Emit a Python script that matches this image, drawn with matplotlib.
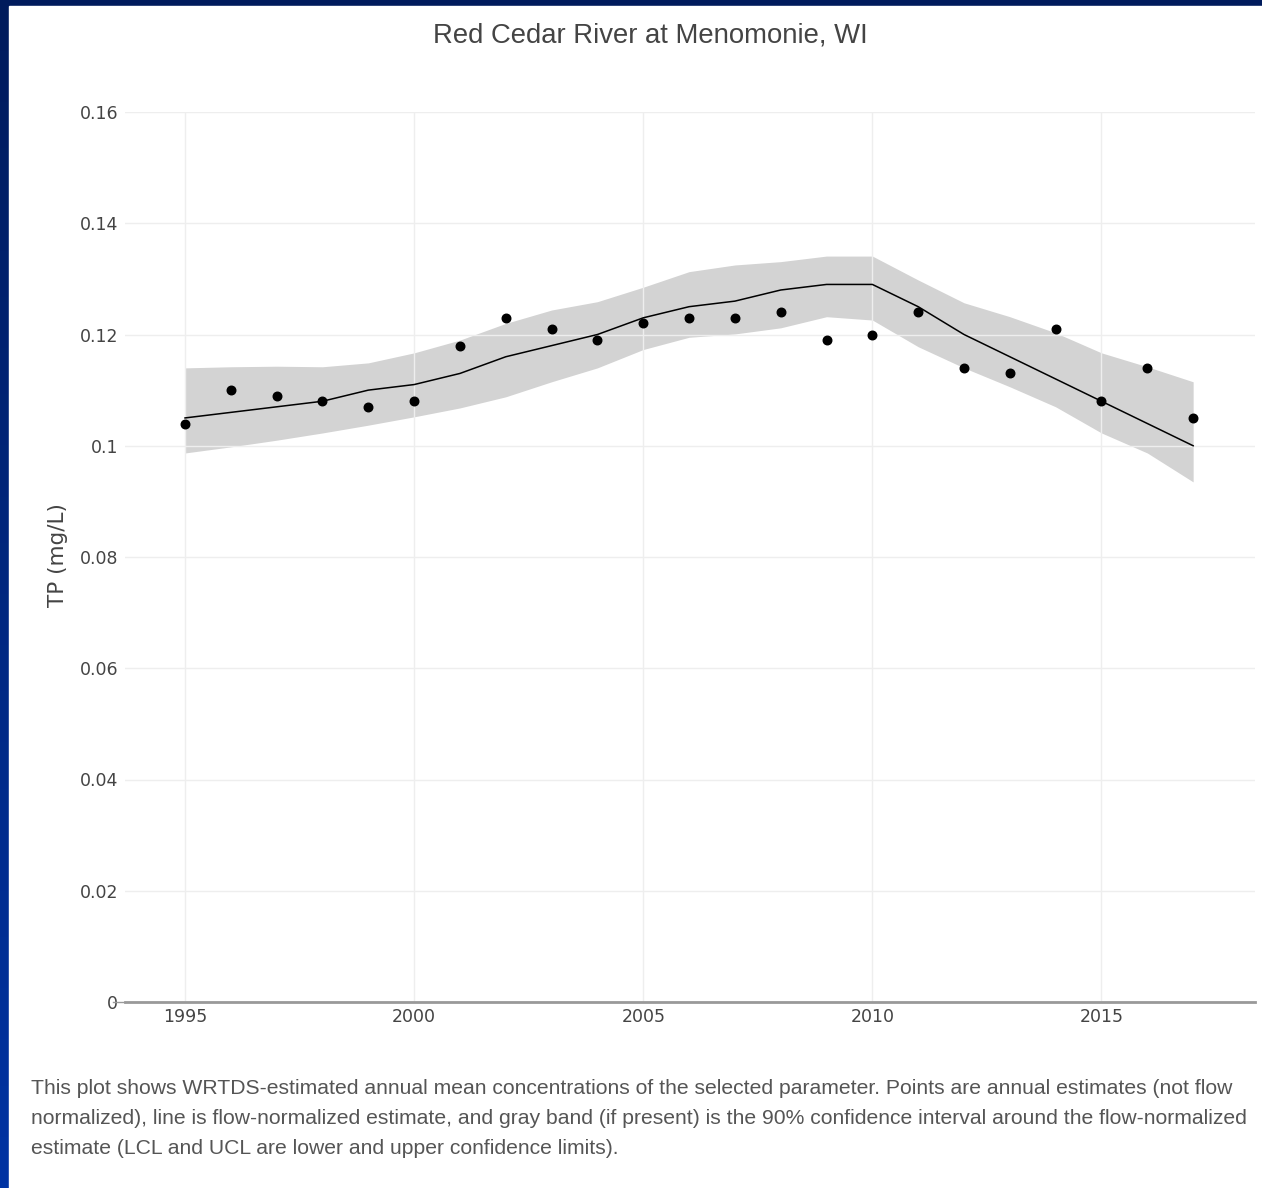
import matplotlib.pyplot as plt
import numpy as np

# annual estimates (points) and flow-normalized estimate (line) with 90% CI band
years = list(range(1995, 2018))
annual = [0.104, 0.110, 0.109, 0.108, 0.107, 0.108, 0.118, 0.123, 0.121, 0.119,
          0.122, 0.123, 0.123, 0.124, 0.119, 0.120, 0.124, 0.114, 0.113, 0.121,
          0.108, 0.114, 0.105]
flow_norm = [0.105, 0.106, 0.107, 0.108, 0.110, 0.111, 0.113, 0.116, 0.118, 0.120,
             0.123, 0.125, 0.126, 0.128, 0.129, 0.129, 0.125, 0.120, 0.116, 0.112,
             0.108, 0.104, 0.100]
ucl = [0.1140, 0.1142, 0.1143, 0.1142, 0.1149, 0.1167, 0.1190, 0.1220, 0.1244, 0.1259,
       0.1285, 0.1313, 0.1325, 0.1331, 0.1341, 0.1341, 0.1298, 0.1257, 0.1232, 0.1203,
       0.1167, 0.1142, 0.1115]
lcl = [0.0987, 0.0998, 0.1010, 0.1023, 0.1037, 0.1052, 0.1068, 0.1088, 0.1115, 0.1140,
       0.1173, 0.1195, 0.1201, 0.1212, 0.1232, 0.1226, 0.1178, 0.1140, 0.1106, 0.1070,
       0.1023, 0.0987, 0.0935]
xticks = [1995, 2000, 2005, 2010, 2015]
yticks = [0, 0.02, 0.04, 0.06, 0.08, 0.1, 0.12, 0.14, 0.16]
ytick_labels = ['0', '0.02', '0.04', '0.06', '0.08', '0.1', '0.12', '0.14', '0.16']

title = 'Red Cedar River at Menomonie, WI'
caption_lines = [
    'This plot shows WRTDS-estimated annual mean concentrations of the selected parameter. '
    'Points are annual estimates (not flow',
    'normalized), line is flow-normalized estimate, and gray band (if present) is the 90% '
    'confidence interval around the flow-normalized',
    'estimate (LCL and UCL are lower and upper confidence limits).',
]

W, H = 1262, 1188
fig = plt.figure(figsize=(W / 100, H / 100), dpi=100)

# navy slide background with a white panel on it
bg = fig.add_axes([0, 0, 1, 1], zorder=-10)
grad = np.linspace(0, 1, 256).reshape(-1, 1)
cmap = plt.matplotlib.colors.LinearSegmentedColormap.from_list('navy', ['#001b5c', '#0033a3'])
bg.imshow(grad, aspect='auto', cmap=cmap, extent=[0, 1, 0, 1], origin='upper')
bg.add_patch(plt.Rectangle((9 / W, 0), 1, 1 - 6 / H, color='white'))
bg.set_xlim(0, 1)
bg.set_ylim(0, 1)
bg.axis('off')

ax = fig.add_axes([125 / W, 1 - 1002 / H, (1255 - 125) / W, (1002 - 112) / H])
ax.set_facecolor('none')

ax.fill_between(years, lcl, ucl, color='#d3d3d3', linewidth=0, zorder=1)
ax.plot(years, flow_norm, color='black', linewidth=1.1, zorder=2)
ax.scatter(years, annual, color='black', s=38, zorder=3)

ax.set_xlim(1993.69, 2018.35)
ax.set_ylim(0, 0.16)
ax.set_xticks(xticks)
ax.set_yticks(yticks)
ax.set_yticklabels(ytick_labels)
ax.tick_params(length=0, labelsize=12.5, labelcolor='#444444')
ax.tick_params(axis='y', pad=5)
ax.tick_params(axis='x', pad=4)
ax.grid(color='#eeeeee', linewidth=1)
for s in ['top', 'right', 'left']:
    ax.spines[s].set_visible(False)
ax.spines['bottom'].set_color('#999999')
ax.spines['bottom'].set_linewidth(2)
ax.plot([-0.011, 0], [0, 0], transform=ax.transAxes, color='#999999', linewidth=1, clip_on=False)

ax.set_ylabel('TP (mg/L)', fontsize=15.5, color='#444444', va='center')
ax.yaxis.set_label_coords((58 - 125) / 1130, (1002 - 555) / 890)

fig.text(650 / W, 1 - 36 / H, title, ha='center', va='center', fontsize=19.8,
         color='#444444', family='Liberation Sans')
for i, line in enumerate(caption_lines):
    fig.text(31 / W, 1 - (1088 + 30.5 * i) / H, line, ha='left', va='center', fontsize=15.2,
             color='#555555', family='Liberation Sans')

fig.savefig('out.png', dpi=100)
plt.close(fig)
